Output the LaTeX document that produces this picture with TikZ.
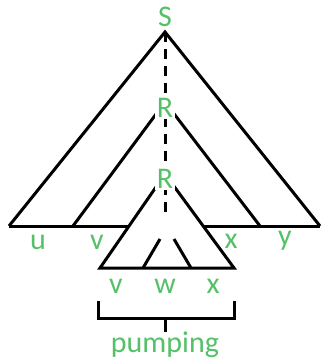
\documentclass[tikz,border=0pt]{standalone}
\usepackage{fontspec}
\setmainfont{Carlito}
\usepackage{xcolor}
\usetikzlibrary{math}
\definecolor{mygreen}{RGB}{84, 192, 104}

\begin{document}
\begin{tikzpicture}[x=1pt,y=-1pt,
    lbl/.style={text=mygreen,font=\fontsize{30}{32}\selectfont,inner sep=1.5pt},
    edge/.style={line width=3}]
\tikzmath{
\mx=165;
}
\useasboundingbox (0,0) rectangle (321,362);

\coordinate (S) at (\mx,32);
\coordinate (bl) at (9,226);
\coordinate (br) at (320,226);

% outer tree
\draw[edge] (bl) -- (S) -- (br);
\draw[edge] (bl) -- (br);

% subtree below the first R
\coordinate (R1) at (\mx,102);
\draw[edge] (73,226) -- (R1) -- (260,226);

% subtree below the second R
\coordinate (R2) at (\mx,174);
\coordinate (il) at (100,268);
\coordinate (ir) at (234,268);
\filldraw[edge,fill=white] (il) -- (R2) -- (ir) -- cycle;
\draw[edge] (160,239) -- (143,268);
\draw[edge] (174,239) -- (191,268);

% path from S
\coordinate (pe) at (\mx,213);
\draw[edge,dash pattern=on 10 off 7] (S) -- (pe);

\node[lbl] (lS) at (\mx,17) {S};
\node[lbl,fill=white] (lR1) at (\mx,108) {R};
\node[lbl,fill=white] (lR2) at (\mx,179) {R};

\node[lbl] (lu) at (38,242) {u};
\node[lbl] (lv) at (97,242) {v};
\node[lbl] (lx) at (231,241) {x};
\node[lbl] (ly) at (285,241) {y};

\node[lbl] (iv) at (116,286) {v};
\node[lbl] (iw) at (\mx,286) {w};
\node[lbl] (ix) at (213,286) {x};

% brace
\coordinate (b1) at (98,301);
\coordinate (b2) at (234,301);
\coordinate (bm) at (\mx,318);
\draw[edge] (b1) |- (bm) -| (b2);
\draw[edge] (bm) -- ++(0,14) coordinate (bt);
\node[lbl] (pump) at (\mx,345) {pumping};

\end{tikzpicture}
\end{document}
